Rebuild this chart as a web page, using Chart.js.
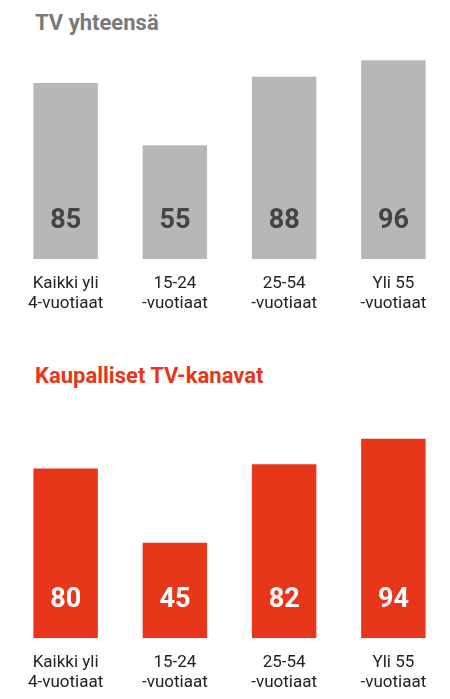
<!DOCTYPE html>
<html><head><meta charset="utf-8">
<script src="https://cdn.jsdelivr.net/npm/chart.js@4"></script>
<style>
body{margin:0;width:450px;height:699px;background:#fff;position:relative;overflow:hidden;font-family:Roboto,sans-serif}
.t{position:absolute;left:35px;font-weight:bold;font-size:22px}
.c{position:absolute;left:0;width:450px}
</style></head><body>
<div class="t" style="top:10px;color:#7a7a7a">TV yhteensä</div>
<div class="c" style="top:0;height:320px"><canvas id="a"></canvas></div>
<div class="t" style="top:363px;color:#e8361a">Kaupalliset TV-kanavat</div>
<div class="c" style="top:360px;height:339px"><canvas id="b"></canvas></div>
<script>
const categories=[["Kaikki yli","4-vuotiaat"],["15-24","-vuotiaat"],["25-54","-vuotiaat"],["Yli 55","-vuotiaat"]];
const totalTV=[85,55,88,96];
const commercialTV=[80,45,82,94];
const valPlugin={id:'v',afterDatasetsDraw(c,a,o){const ctx=c.ctx;c.getDatasetMeta(0).data.forEach((b,i)=>{ctx.save();ctx.fillStyle=o.color;ctx.font='bold 27px Roboto';ctx.textAlign='center';ctx.textBaseline='middle';ctx.fillText(c.data.datasets[0].data[i],b.x,c.chartArea.bottom-o.off);ctx.restore();});}};
function mk(id,data,color,txt,top,off){
new Chart(document.getElementById(id),{type:'bar',data:{labels:categories,datasets:[{data,backgroundColor:color}]},
options:{responsive:true,maintainAspectRatio:false,animation:false,layout:{padding:{left:11,right:2,top:top}},
plugins:{legend:{display:false},tooltip:{enabled:false},v:{color:txt,off:off}},
datasets:{bar:{barPercentage:0.59,categoryPercentage:1}},
scales:{y:{display:false,min:0,max:100},x:{grid:{display:false},border:{display:false},ticks:{color:'#222',font:{size:17,family:'Roboto'},padding:6}}}},plugins:[valPlugin]});}
mk('a',totalTV,'#b7b7b7','#444',52,38);
mk('b',commercialTV,'#e8361a','#fff',66,38);
</script></body></html>
